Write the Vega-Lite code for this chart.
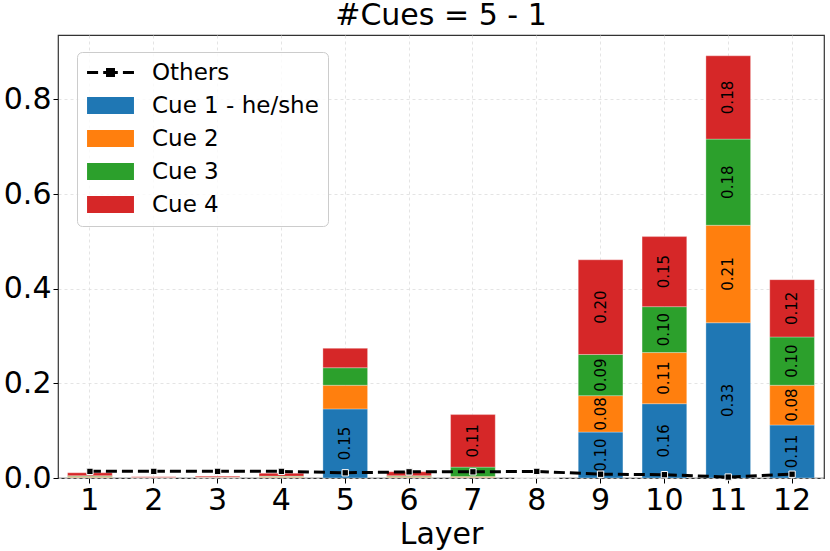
{
  "$schema": "https://vega.github.io/schema/vega-lite/v6.json",
  "width": 766,
  "height": 443,
  "autosize": "none",
  "padding": {"left": 58, "top": 35, "right": 6, "bottom": 73},
  "title": {"text": "#Cues = 5 - 1", "fontSize": 30, "font": "DejaVu Sans", "fontWeight": "normal", "offset": 4, "color": "black"},
  "config": {
    "font": "DejaVu Sans",
    "view": {"stroke": "#333333", "strokeWidth": 1.2},
    "axis": {
      "gridColor": "#dddddd", "gridDash": [3, 3], "gridWidth": 0.8,
      "domain": false, "tickColor": "black", "tickSize": 5,
      "labelFontSize": 30, "labelColor": "black", "labelFont": "DejaVu Sans",
      "titleFontSize": 30, "titleFontWeight": "normal", "titleColor": "black", "titleFont": "DejaVu Sans"
    }
  },
  "datasets": {
    "cues": [
      {"layer": 1, "cue": "Cue 1 - he/she", "value": 0.001},
      {"layer": 1, "cue": "Cue 2", "value": 0.002},
      {"layer": 1, "cue": "Cue 3", "value": 0.002},
      {"layer": 1, "cue": "Cue 4", "value": 0.006},
      {"layer": 2, "cue": "Cue 1 - he/she", "value": 0.0003},
      {"layer": 2, "cue": "Cue 2", "value": 0.0003},
      {"layer": 2, "cue": "Cue 3", "value": 0.0004},
      {"layer": 2, "cue": "Cue 4", "value": 0.0015},
      {"layer": 3, "cue": "Cue 1 - he/she", "value": 0.0004},
      {"layer": 3, "cue": "Cue 2", "value": 0.0005},
      {"layer": 3, "cue": "Cue 3", "value": 0.0005},
      {"layer": 3, "cue": "Cue 4", "value": 0.0025},
      {"layer": 4, "cue": "Cue 1 - he/she", "value": 0.001},
      {"layer": 4, "cue": "Cue 2", "value": 0.002},
      {"layer": 4, "cue": "Cue 3", "value": 0.001},
      {"layer": 4, "cue": "Cue 4", "value": 0.006},
      {"layer": 5, "cue": "Cue 1 - he/she", "value": 0.146},
      {"layer": 5, "cue": "Cue 2", "value": 0.05},
      {"layer": 5, "cue": "Cue 3", "value": 0.037},
      {"layer": 5, "cue": "Cue 4", "value": 0.041},
      {"layer": 6, "cue": "Cue 1 - he/she", "value": 0.001},
      {"layer": 6, "cue": "Cue 2", "value": 0.002},
      {"layer": 6, "cue": "Cue 3", "value": 0.002},
      {"layer": 6, "cue": "Cue 4", "value": 0.008},
      {"layer": 7, "cue": "Cue 1 - he/she", "value": 0.001},
      {"layer": 7, "cue": "Cue 2", "value": 0.002},
      {"layer": 7, "cue": "Cue 3", "value": 0.02},
      {"layer": 7, "cue": "Cue 4", "value": 0.111},
      {"layer": 8, "cue": "Cue 1 - he/she", "value": 0},
      {"layer": 8, "cue": "Cue 2", "value": 0},
      {"layer": 8, "cue": "Cue 3", "value": 0},
      {"layer": 8, "cue": "Cue 4", "value": 0},
      {"layer": 9, "cue": "Cue 1 - he/she", "value": 0.097},
      {"layer": 9, "cue": "Cue 2", "value": 0.077},
      {"layer": 9, "cue": "Cue 3", "value": 0.087},
      {"layer": 9, "cue": "Cue 4", "value": 0.2},
      {"layer": 10, "cue": "Cue 1 - he/she", "value": 0.157},
      {"layer": 10, "cue": "Cue 2", "value": 0.108},
      {"layer": 10, "cue": "Cue 3", "value": 0.097},
      {"layer": 10, "cue": "Cue 4", "value": 0.148},
      {"layer": 11, "cue": "Cue 1 - he/she", "value": 0.328},
      {"layer": 11, "cue": "Cue 2", "value": 0.206},
      {"layer": 11, "cue": "Cue 3", "value": 0.182},
      {"layer": 11, "cue": "Cue 4", "value": 0.176},
      {"layer": 12, "cue": "Cue 1 - he/she", "value": 0.112},
      {"layer": 12, "cue": "Cue 2", "value": 0.084},
      {"layer": 12, "cue": "Cue 3", "value": 0.102},
      {"layer": 12, "cue": "Cue 4", "value": 0.121}
    ],
    "others": [
      {"layer": 1, "others": 0.014},
      {"layer": 2, "others": 0.014},
      {"layer": 3, "others": 0.014},
      {"layer": 4, "others": 0.014},
      {"layer": 5, "others": 0.011},
      {"layer": 6, "others": 0.013},
      {"layer": 7, "others": 0.013},
      {"layer": 8, "others": 0.014},
      {"layer": 9, "others": 0.008},
      {"layer": 10, "others": 0.007},
      {"layer": 11, "others": 0.002},
      {"layer": 12, "others": 0.008}
    ]
  },
  "layer": [
    {
      "data": {"name": "cues"},
      "transform": [
        {"stack": "value", "groupby": ["layer"], "sort": [{"field": "cue"}], "as": ["y0", "y1"]}
      ],
      "layer": [
        {
          "mark": {"type": "bar", "stroke": "white", "strokeWidth": 0.5, "strokeOpacity": 0.6},
          "encoding": {
            "x": {
              "field": "layer", "type": "ordinal",
              "scale": {"domain": [1, 2, 3, 4, 5, 6, 7, 8, 9, 10, 11, 12], "paddingInner": 0.3, "paddingOuter": 0.15},
              "axis": {"title": "Layer", "labelAngle": 0, "bandPosition": 0.5, "grid": true, "labelPadding": 2, "titlePadding": 4}
            },
            "y": {
              "field": "y0", "type": "quantitative",
              "scale": {"domain": [0, 0.936], "nice": false},
              "axis": {"title": null, "values": [0, 0.2, 0.4, 0.6, 0.8], "format": ".1f", "labelPadding": 2}
            },
            "y2": {"field": "y1"},
            "color": {
              "field": "cue", "type": "nominal",
              "scale": {
                "domain": ["Others", "Cue 1 - he/she", "Cue 2", "Cue 3", "Cue 4"],
                "range": ["black", "#1f77b4", "#ff7f0e", "#2ca02c", "#d62728"]
              },
              "legend": {
                "title": null,
                "orient": "none", "legendX": 19, "legendY": 17,
                "labelFontSize": 23, "labelFont": "DejaVu Sans", "labelColor": "black", "labelLimit": 400,
                "symbolSize": 289, "labelOffset": 43, "rowPadding": 9,
                "symbolType": {"expr": "datum.label === 'Others' ? 'M-1.23,0H0.07M0.67,0H2.39M2.99,0H4.29M1.18,-0.35H1.88V0.35H1.18Z' : 'M-1.23,-1H4.29V1H-1.23Z'"},
                "symbolStrokeColor": {"expr": "datum.label === 'Others' ? 'black' : 'white'"},
                "symbolStrokeWidth": {"expr": "datum.label === 'Others' ? 3 : 0"},
                "symbolOpacity": 1,
                "padding": 9,
                "fillColor": "rgba(255,255,255,0.8)", "strokeColor": "#cccccc", "cornerRadius": 5
              }
            }
          }
        },
        {
          "transform": [
            {"filter": "datum.value >= 0.06"},
            {"calculate": "(datum.y0 + datum.y1) / 2", "as": "ymid"}
          ],
          "mark": {"type": "text", "angle": 270, "fontSize": 15, "color": "black"},
          "encoding": {
            "x": {"field": "layer", "type": "ordinal"},
            "y": {"field": "ymid", "type": "quantitative"},
            "text": {"field": "value", "format": ".2f"}
          }
        }
      ]
    },
    {
      "data": {"name": "others"},
      "layer": [
        {
          "mark": {"type": "line", "color": "black", "strokeWidth": 3, "strokeDash": [11, 5]},
          "encoding": {
            "x": {"field": "layer", "type": "ordinal"},
            "y": {"field": "others", "type": "quantitative"}
          }
        },
        {
          "mark": {"type": "point", "shape": "square", "filled": true, "color": "black", "size": 40, "stroke": "white", "strokeWidth": 1, "opacity": 1},
          "encoding": {
            "x": {"field": "layer", "type": "ordinal"},
            "y": {"field": "others", "type": "quantitative"}
          }
        }
      ]
    }
  ]
}
